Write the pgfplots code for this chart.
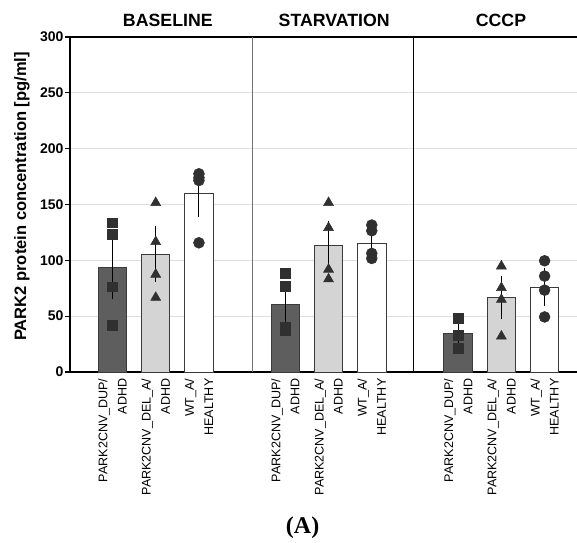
\documentclass[border=0pt]{standalone}
\usepackage{pgfplots}
\pgfplotsset{compat=1.18}
\usepackage{pgfplotstable}
\usepackage{fontspec}
\setmainfont{Liberation Sans}
\newfontfamily\capfont{Liberation Serif}

\definecolor{dupgray}{HTML}{5E5E5E}
\definecolor{delgray}{HTML}{D4D4D4}
\definecolor{edgegray}{HTML}{3A3A3A}
\definecolor{dotgray}{HTML}{303030}

% bar means and SEM, one table per genotype
\pgfplotstableread{
x y e
0 93.3 21.4
4 60.5 12.7
8 34.4 7.7
}\dupbars
\pgfplotstableread{
x y e
1 105.6 18.6
5 113.1 16.0
9 66.7 12.7
}\delbars
\pgfplotstableread{
x y e
2 160.0 14.4
6 115.2 7.8
10 76.0 10.5
}\wtbars

% single measurements
\pgfplotstableread{
x y
0 133.7
0 123.3
0 76.3
0 41.9
4 88.3
4 76.9
4 40.4
4 37.0
8 48.0
8 33.0
8 21.5
}\dupdots
\pgfplotstableread{
x y
1 151.6
1 116.6
1 87.4
1 66.7
5 151.6
5 129.2
5 91.9
5 83.2
9 94.8
9 75.4
9 64.9
9 32.0
}\deldots
\pgfplotstableread{
x y
2 177.5
2 174.0
2 171.5
2 115.7
6 131.6
6 126.5
6 106.2
6 101.7
10 99.6
10 85.9
10 73.3
10 49.3
}\wtdots

\begin{document}
\begin{tikzpicture}
\useasboundingbox (-52.5pt,-127.5pt) rectangle (380.25pt,279pt);
\begin{axis}[
    width=380.25pt, height=251.25pt,
    scale only axis,
    clip=false,
    xmin=-0.984, xmax=10.75,
    ymin=0, ymax=300,
    axis x line*=bottom,
    axis y line*=left,
    axis line style={line width=1.6pt},
    ytick={0,50,...,300},
    ymajorgrids,
    grid style={black!12, line width=0.75pt},
    tick align=outside,
    major tick length=3.75pt,
    ytick style={black, line width=1pt},
    xtick style={draw=none},
    xtick={0,1,2,4,5,6,8,9,10},
    xticklabels={
        {PARK2CNV\_DUP/\\ADHD}, {PARK2CNV\_DEL\_A/\\ADHD}, {WT\_A/\\HEALTHY},
        {PARK2CNV\_DUP/\\ADHD}, {PARK2CNV\_DEL\_A/\\ADHD}, {WT\_A/\\HEALTHY},
        {PARK2CNV\_DUP/\\ADHD}, {PARK2CNV\_DEL\_A/\\ADHD}, {WT\_A/\\HEALTHY}},
    xticklabel style={rotate=90, anchor=east, align=right,
        font=\fontsize{9.4}{14.4}\selectfont, inner sep=1pt},
    /pgf/number format/assume math mode=true,
    yticklabel style={font=\bfseries\fontsize{10.5}{12}\selectfont, inner sep=1pt},
    ylabel={PARK2 protein concentration [pg/ml]},
    ylabel style={font=\bfseries\fontsize{12.4}{14}\selectfont,
        at={(axis description cs:-0.0947,0.524)}, anchor=center},
    error bars/y dir=both,
    error bars/y explicit,
    error bars/error bar style={black, line width=0.8pt},
    error bars/error mark options={black, line width=0.8pt, mark size=5.5pt},
]
\addplot[ybar, bar width=0.66, bar shift=0pt, fill=dupgray, draw=edgegray, line width=0.75pt]
    table[x=x, y=y, y error=e] {\dupbars};
\addplot[ybar, bar width=0.66, bar shift=0pt, fill=delgray, draw=edgegray, line width=0.75pt]
    table[x=x, y=y, y error=e] {\delbars};
\addplot[ybar, bar width=0.66, bar shift=0pt, fill=white, draw=edgegray, line width=0.75pt]
    table[x=x, y=y, y error=e] {\wtbars};

\addplot[only marks, mark=square*, mark size=3.7pt, color=dotgray, mark options={fill=dotgray}]
    table[x=x, y=y] {\dupdots};
\addplot[only marks, mark=triangle*, mark size=4.3pt, color=dotgray, mark options={fill=dotgray}]
    table[x=x, y=y] {\deldots};
\addplot[only marks, mark=*, mark size=4.1pt, color=dotgray, mark options={fill=dotgray}]
    table[x=x, y=y] {\wtdots};

\draw[line width=1.6pt] (axis cs:-0.984,300) -- (axis cs:10.75,300);
\draw[black!55, line width=0.8pt] (axis cs:3.25,0) -- (axis cs:3.25,300);
\draw[black, line width=0.8pt] (axis cs:6.96,0) -- (axis cs:6.96,300);

\node[font=\bfseries\fontsize{13.3}{15}\selectfont, anchor=base] at (axis cs:1.28,309.8) {BASELINE};
\node[font=\bfseries\fontsize{13.3}{15}\selectfont, anchor=base] at (axis cs:5.13,309.8) {STARVATION};
\node[font=\bfseries\fontsize{13.3}{15}\selectfont, anchor=base] at (axis cs:8.99,309.8) {CCCP};
\node[font=\capfont\bfseries\fontsize{18}{20}\selectfont, anchor=base] at (axis cs:4.40,-144.4) {(A)};
\end{axis}
\end{tikzpicture}
\end{document}
